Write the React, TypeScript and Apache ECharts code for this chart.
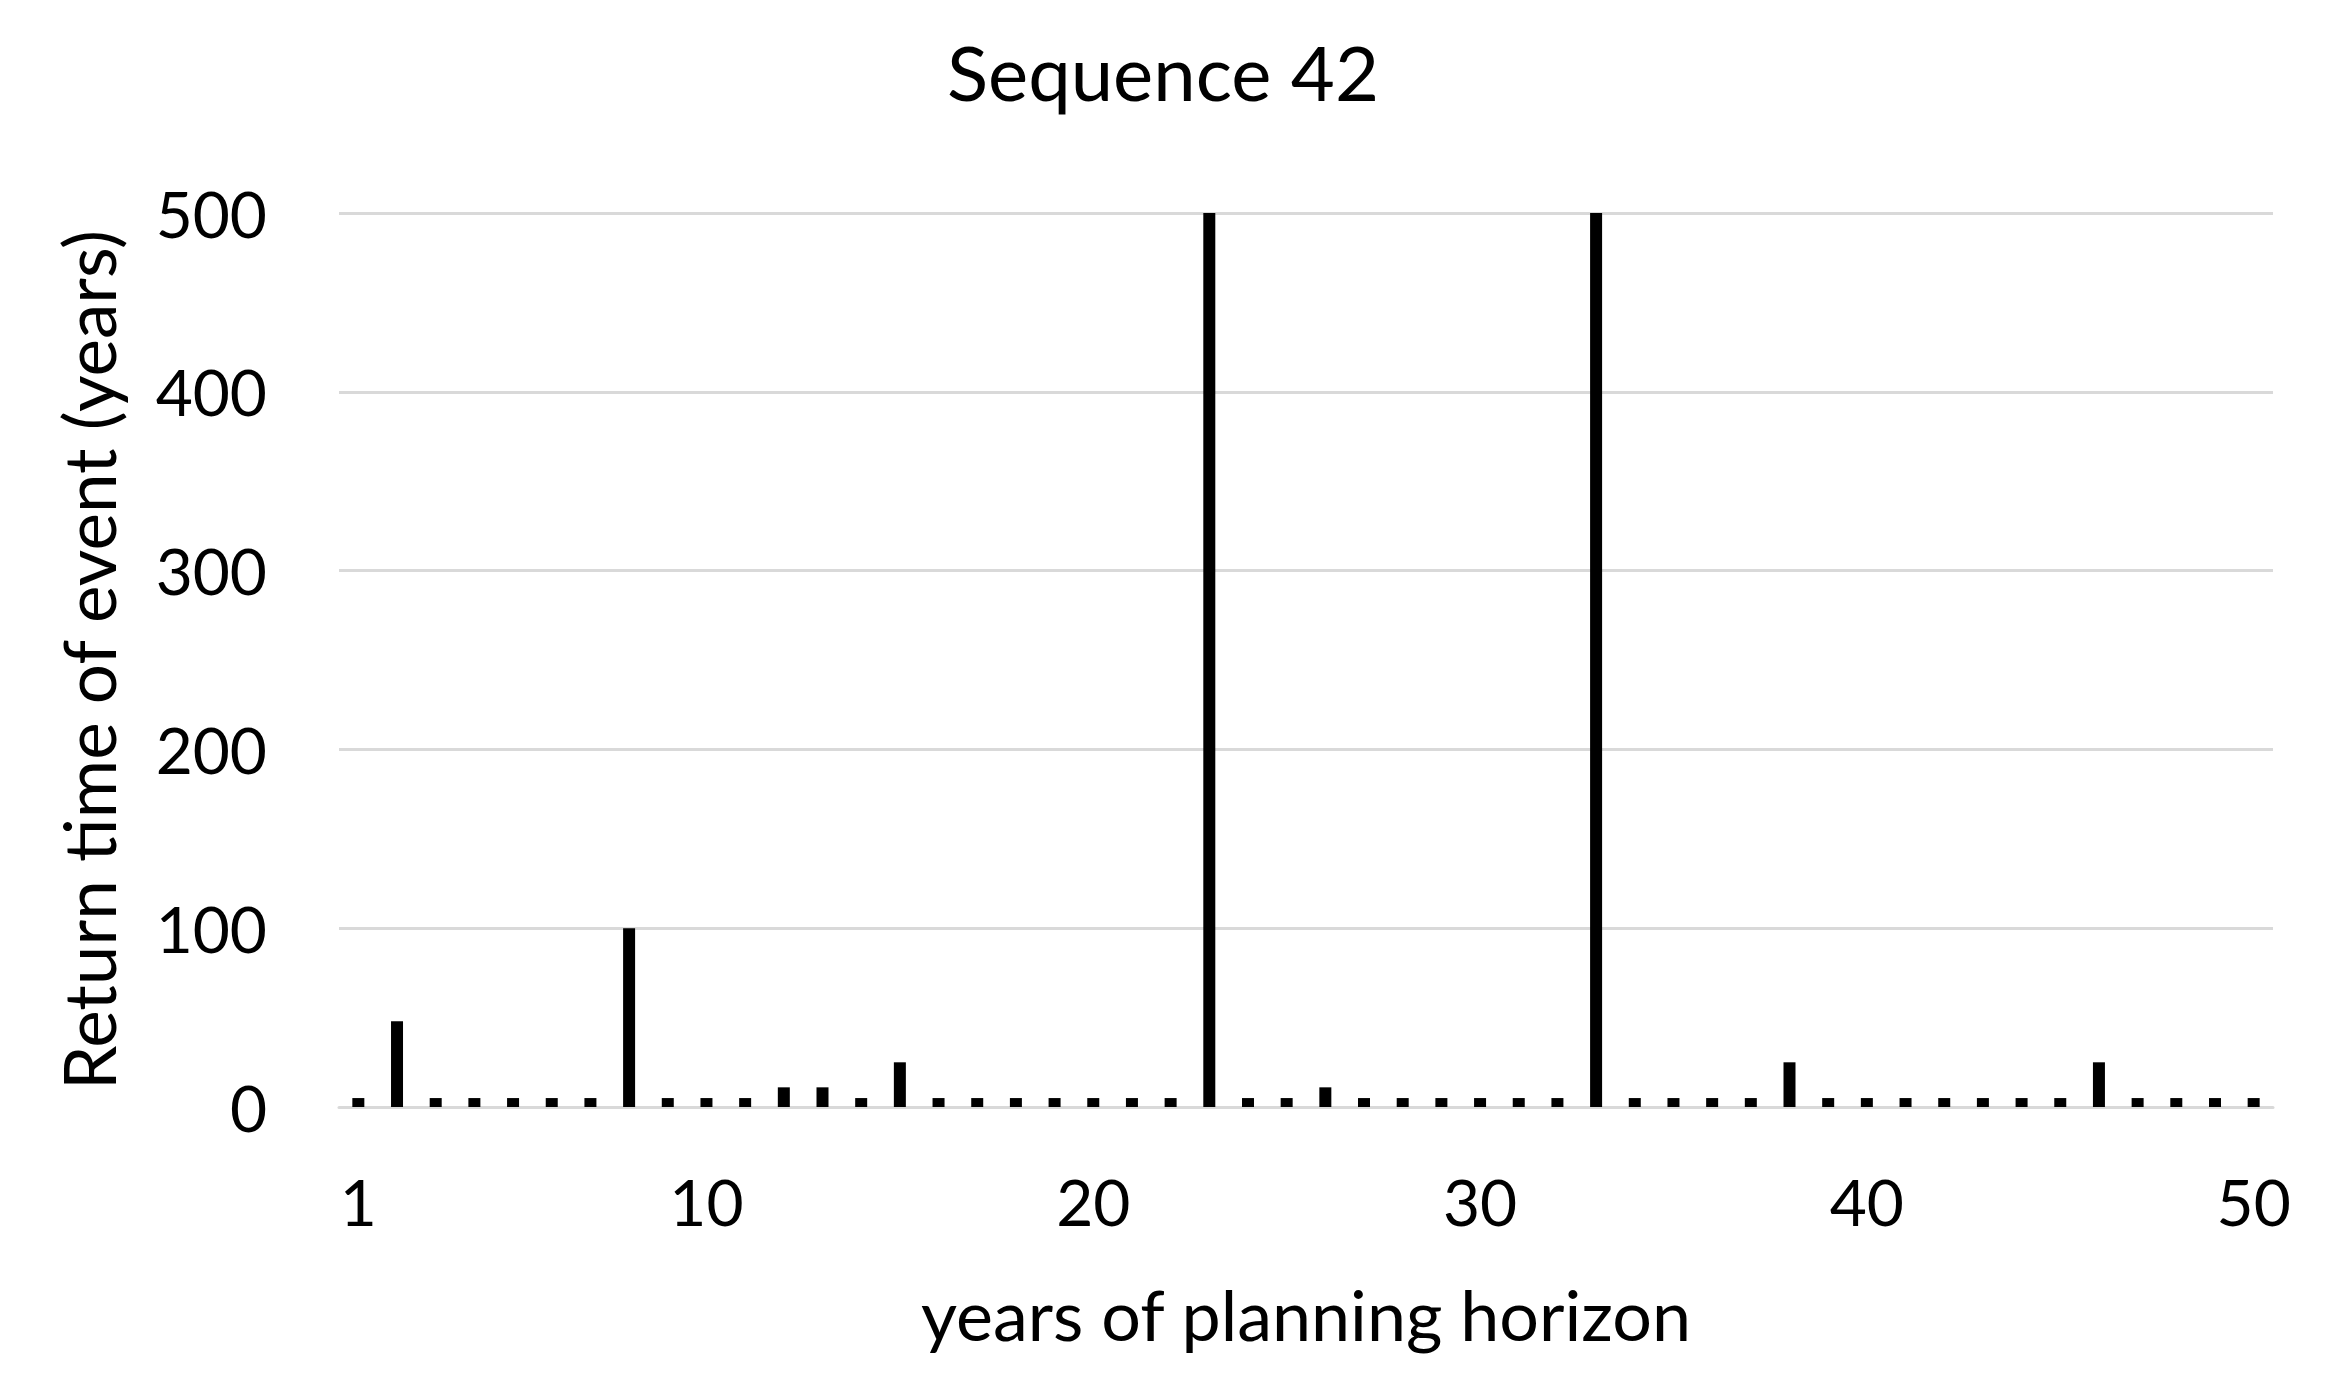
import React, { useEffect, useRef } from "react";
import * as echarts from "echarts";

const titleText = "Sequence 42";
const xAxisName = "years of planning horizon";
const yAxisName = "Return time of event (years)";

const years = Array.from({ length: 50 }, (_, i) => String(i + 1));
// Return time of event per year (small values = no significant event)
const returnTimes = [
  5, 48, 5, 5, 5, 5, 5, 100, 5, 5,
  5, 11, 11, 5, 25, 5, 5, 5, 5, 5,
  5, 5, 500, 5, 5, 11, 5, 5, 5, 5,
  5, 5, 500, 5, 5, 5, 5, 25, 5, 5,
  5, 5, 5, 5, 5, 25, 5, 5, 5, 5,
];
const shownXLabels = ["1", "10", "20", "30", "40", "50"];
const yTicks = [0, 100, 200, 300, 400, 500];

export default function App() {
  const ref = useRef<HTMLDivElement>(null);
  useEffect(() => {
    if (!ref.current) return;
    const chart = echarts.init(ref.current, null, { renderer: "svg" });
    const font = "Lato";
    chart.setOption({
      animation: false,
      backgroundColor: "#ffffff",
      title: {
        text: titleText,
        left: 1158,
        top: 28,
        textAlign: "center",
        textStyle: { fontFamily: font, fontSize: 76, fontWeight: "normal", color: "#000" },
      },
      grid: { left: 339, right: 57, top: 213, bottom: 290, containLabel: false },
      xAxis: {
        type: "category",
        data: years,
        name: xAxisName,
        nameLocation: "middle",
        nameGap: 172,
        nameTextStyle: { fontFamily: font, fontSize: 70, color: "#000" },
        axisLine: { show: true, lineStyle: { color: "#d9d9d9", width: 3 } },
        axisTick: { show: false },
        axisLabel: {
          interval: (idx: number, val: string) => shownXLabels.includes(val),
          margin: 62,
          fontFamily: font,
          fontSize: 64,
          color: "#000",
        },
      },
      yAxis: {
        type: "value",
        min: yTicks[0],
        max: yTicks[yTicks.length - 1],
        interval: 100,
        name: yAxisName,
        nameLocation: "middle",
        nameGap: 215,
        nameRotate: 90,
        nameTextStyle: { fontFamily: font, fontSize: 71, color: "#000" },
        axisLine: { show: false },
        axisTick: { show: false },
        axisLabel: { margin: 72, fontFamily: font, fontSize: 64, color: "#000" },
        splitLine: { show: true, lineStyle: { color: "#d9d9d9", width: 3 } },
      },
      series: [
        {
          type: "bar",
          data: returnTimes,
          barWidth: 12,
          itemStyle: { color: "#000" },
        },
      ],
    });
    return () => chart.dispose();
  }, []);
  return (
    <div
      ref={ref}
      style={{ position: "fixed", left: 0, top: 0, width: 2330, height: 1397, background: "#fff" }}
    />
  );
}
